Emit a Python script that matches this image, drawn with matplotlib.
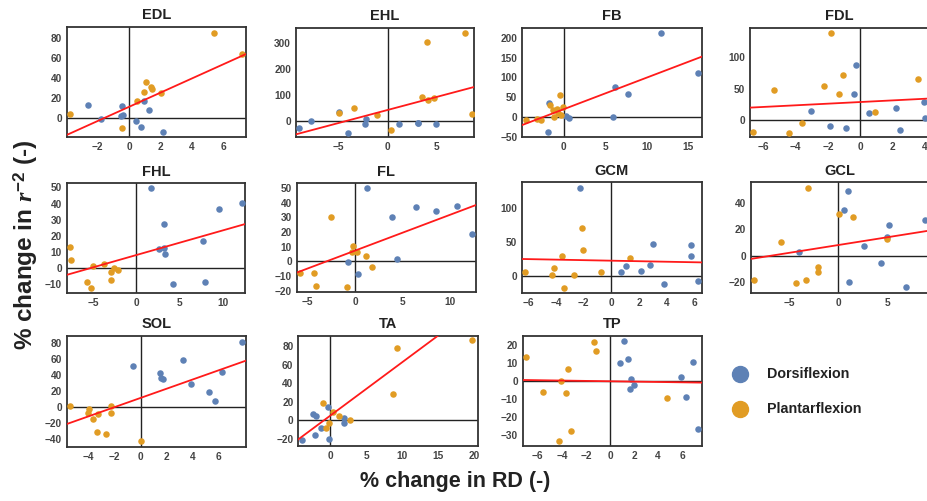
import matplotlib
matplotlib.use("Agg")
import matplotlib.pyplot as plt
import numpy as np

plt.rcParams['font.family'] = ['Liberation Sans', 'DejaVu Sans']
plt.rcParams['mathtext.fontset'] = 'custom'
plt.rcParams['mathtext.it'] = 'Liberation Serif:italic:bold'
plt.rcParams['mathtext.rm'] = 'Liberation Sans:bold'

BLUE = '#5E81B5'
ORANGE = '#E19C24'

# ---------------- data ----------------
panels = ['EDL', 'EHL', 'FB', 'FDL', 'FHL', 'FL', 'GCM', 'GCL', 'SOL', 'TA', 'TP']

# EDL
edl_dx = [-2.62, -1.80, -0.47, -0.51, -0.38, 0.44, 0.76, 0.95, 1.29, 2.16]
edl_dy = [13.2, -0.3, 12.2, 2.3, 3.6, -2.6, -8.3, 17.2, 8.3, -13.9]
edl_px = [-3.74, -0.47, 0.49, 0.95, 1.08, 1.40, 1.44, 2.05, 5.41, 7.15]
edl_py = [4.6, -9.9, 17.5, 26.4, 36.0, 31.4, 29.4, 24.8, 85.0, 64.1]
# EHL
ehl_dx = [-8.98, -7.83, -4.92, -4.07, -2.20, -2.34, 1.15, 3.05, 3.12, 4.88]
ehl_dy = [-29.5, -1.3, 33.3, -46.2, 6.4, -12.8, -11.5, -7.7, -10.3, -14.1]
ehl_px = [-4.95, -3.46, -1.12, 0.31, 3.49, 4.00, 4.14, 4.71, 7.86, 8.54]
ehl_py = [28.2, 47.4, 21.8, -35.9, 91.0, 301.0, 79.5, 87.2, 337.0, 24.4]
# FB
fb_dx = [-1.81, -1.93, 0.24, 0.60, 5.98, 6.22, 7.71, 11.77, 16.14]
fb_dy = [34.5, -38.7, 3.4, -2.5, -0.8, 76.5, 57.1, 211.8, 111.8]
fb_px = [-4.54, -3.25, -2.77, -1.65, -1.33, -1.12, -0.80, -0.64, -0.44, -0.36, -0.08]
fb_py = [-7.6, -4.2, -7.6, 29.4, 16.8, -0.8, 19.3, 9.2, 54.6, 5.0, 25.2]
# FDL
fdl_dx = [-3.07, -1.85, -0.85, -0.39, -0.23, 0.54, 2.24, 2.47, 3.98, 4.05]
fdl_dy = [14.4, -9.0, -12.2, 42.0, 87.2, 11.7, 19.1, -16.5, 28.7, 3.7]
fdl_px = [-6.64, -5.33, -4.42, -3.61, -2.22, -1.78, -1.33, -1.08, 0.91, 3.61]
fdl_py = [-19.1, 47.9, -20.2, -5.3, 54.8, 138.8, 41.0, 71.3, 12.2, 66.0]
# FHL
fhl_dx = [1.65, 2.64, 3.14, 3.22, 3.30, 4.21, 7.66, 7.89, 9.46, 12.11]
fhl_dy = [49.5, 12.0, 27.4, 12.6, 9.1, -9.9, 16.7, -8.2, 36.5, 40.4]
fhl_px = [-7.62, -7.55, -5.71, -5.25, -5.02, -3.75, -2.95, -2.95, -2.53, -2.15]
fhl_py = [13.2, 4.9, -8.7, -12.2, 1.6, 2.5, -2.1, -7.2, 0.4, -1.0]
# FL
fl_dx = [-0.70, 0.28, 1.30, 3.91, 4.44, 6.41, 8.52, 10.77, 12.36]
fl_dy = [-0.2, -8.4, 49.9, 30.2, 1.6, 37.0, 34.0, 37.9, 18.8]
fl_px = [-5.81, -4.37, -4.15, -2.57, -0.81, -0.25, -0.32, 0.21, 1.16, 1.83]
fl_py = [-7.9, -7.7, -16.6, 30.2, -17.7, 10.7, 6.1, 6.1, 3.9, -4.1]
# GCM
gcm_dx = [-2.24, 0.70, 1.06, 2.16, 2.79, 3.03, 3.82, 5.72, 5.77, 6.23]
gcm_dy = [130.2, 5.0, 14.9, 7.4, 16.3, 47.0, -11.9, 45.0, 29.7, -7.9]
gcm_px = [-6.20, -4.25, -4.11, -3.53, -3.39, -2.69, -2.09, -2.02, -0.75, 1.37]
gcm_py = [5.9, 1.0, 11.4, 29.7, -17.8, 1.0, 71.3, 38.1, 5.0, 26.2]
# GCL
gcl_dx = [-3.95, 0.57, 0.98, 1.08, 2.57, 4.32, 5.14, 4.97, 6.86, 8.75]
gcl_dy = [2.5, 34.5, 49.1, -19.9, 7.5, -5.8, 23.4, 14.1, -23.9, 26.7]
gcl_px = [-8.55, -5.84, -4.29, -3.28, -3.04, -2.06, -2.09, 0.03, 1.49, 4.90]
gcl_py = [-18.6, 10.1, -20.6, -18.1, 51.1, -8.6, -12.6, 31.4, 29.4, 12.3]
# SOL
sol_dx = [-0.59, 1.48, 1.56, 1.69, 3.22, 3.84, 5.22, 5.70, 6.24, 7.75]
sol_dy = [50.4, 42.5, 36.3, 35.0, 57.9, 27.9, 18.8, 6.7, 43.3, 81.3]
sol_px = [-5.40, -3.94, -4.04, -3.63, -3.27, -3.32, -2.69, -2.30, -2.30, 0.0]
sol_py = [0.4, -2.9, -8.3, -15.8, -9.2, -32.1, -33.8, 0.8, -8.3, -42.9]
# TA
ta_dx = [-3.94, -2.45, -1.94, -2.13, -1.25, -0.28, -0.19, 1.85, 1.85]
ta_dy = [-20.9, 7.2, 4.7, -15.9, -7.9, 14.4, -20.2, 2.9, -3.2]
ta_px = [-1.02, -0.60, -0.14, 0.42, 1.25, 2.73, 8.75, 9.21, 19.68]
ta_py = [18.8, -8.7, -2.5, 9.0, 5.1, 0.0, 28.9, 78.3, 86.6]
# TP
tp_dx = [0.80, 1.14, 1.47, 1.72, 1.66, 2.02, 5.90, 6.32, 6.87, 7.29]
tp_dy = [10.0, 22.0, 12.0, 1.3, -4.6, -2.4, 2.0, -8.7, 10.3, -26.8]
tp_px = [-6.98, -5.60, -4.10, -4.21, -3.63, -3.52, -3.24, -1.30, -1.19, 4.71]
tp_py = [13.1, -5.9, -0.2, -33.2, -6.8, 6.8, -27.7, 21.6, 16.6, -9.2]

# fitted line (slope, intercept)
fit_slope = [7.06, 10.06, 7.97, 1.30, 1.534, 2.43, -0.39, 1.18, 5.76, 5.79, -0.098]
fit_icpt = [11.4, 41.2, 19.5, 28.6, 8.19, 7.27, 22.3, 8.0, 11.0, 5.1, -0.16]

xlims = [(-3.95, 7.42), (-9.32, 8.78), (-4.98, 16.63), (-6.85, 4.29),
         (-8.01, 12.53), (-6.16, 12.78), (-6.47, 6.51), (-8.89, 9.26),
         (-5.68, 8.08), (-4.44, 20.46), (-7.26, 7.62)]
ylims = [(-18.2, 90.9), (-64, 357.7), (-51.3, 225.2), (-27.7, 147.3),
         (-15.5, 52.6), (-21.1, 53.1), (-25.2, 138.6), (-28.4, 55.3),
         (-50, 88.3), (-27.8, 91.3), (-36.0, 24.9)]
xticks = [[-2, 0, 2, 4, 6], [-5, 0, 5], [0, 5, 10, 15], [-6, -4, -2, 0, 2, 4],
          [-5, 0, 5, 10], [-5, 0, 5, 10], [-6, -4, -2, 0, 2, 4, 6], [-5, 0, 5],
          [-4, -2, 0, 2, 4, 6], [0, 5, 10, 15, 20], [-6, -4, -2, 0, 2, 4, 6]]
yticks = [[0, 20, 40, 60, 80], [0, 100, 200, 300], [-50, 0, 50, 100, 150, 200],
          [0, 50, 100], [-10, 0, 10, 20, 30, 40, 50], [-20, -10, 0, 10, 20, 30, 40, 50],
          [0, 50, 100], [-20, 0, 20, 40], [-40, -20, 0, 20, 40, 60, 80],
          [-20, 0, 20, 40, 60, 80], [-30, -20, -10, 0, 10, 20]]

dors_x = [edl_dx, ehl_dx, fb_dx, fdl_dx, fhl_dx, fl_dx, gcm_dx, gcl_dx, sol_dx, ta_dx, tp_dx]
dors_y = [edl_dy, ehl_dy, fb_dy, fdl_dy, fhl_dy, fl_dy, gcm_dy, gcl_dy, sol_dy, ta_dy, tp_dy]
plan_x = [edl_px, ehl_px, fb_px, fdl_px, fhl_px, fl_px, gcm_px, gcl_px, sol_px, ta_px, tp_px]
plan_y = [edl_py, ehl_py, fb_py, fdl_py, fhl_py, fl_py, gcm_py, gcl_py, sol_py, ta_py, tp_py]

# ---------------- layout (pixel boxes: left, top, right, bottom) ----------------
W, H = 927, 501
boxes = [(66.7, 26.7, 246, 136.7), (296, 27.7, 474, 137.3), (522.3, 27.7, 701.7, 137.3), (750, 27.7, 929, 137.3),
         (66.7, 183.3, 245.3, 293.3), (296.7, 183.3, 476, 292.3), (521.7, 182.3, 701.7, 292.7), (750.7, 182.3, 929.7, 293.3),
         (66.7, 336, 246, 446.7), (298.3, 336, 477.7, 446), (522.7, 336, 701.7, 446)]

fig = plt.figure(figsize=(W / 100, H / 100), dpi=100)
fig.patch.set_facecolor('white')

for i, name in enumerate(panels):
    l, t, r, b = boxes[i]
    ax = fig.add_axes([l / W, 1 - b / H, (r - l) / W, (b - t) / H])
    ax.set_xlim(*xlims[i])
    ax.set_ylim(*ylims[i])
    ax.axhline(0, color='#222222', lw=1.0, zorder=1)
    ax.axvline(0, color='#222222', lw=1.0, zorder=1)
    ax.scatter(dors_x[i], dors_y[i], s=22, color=BLUE, zorder=3, linewidths=0)
    ax.scatter(plan_x[i], plan_y[i], s=22, color=ORANGE, zorder=3, linewidths=0)
    xx = np.array(xlims[i])
    ax.plot(xx, fit_slope[i] * xx + fit_icpt[i], color='#FF1A1A', lw=1.3, zorder=4)
    ax.set_xticks(xticks[i])
    ax.set_yticks(yticks[i])
    ax.set_xticklabels(['\u2212' + str(abs(v)) if v < 0 else str(v) for v in xticks[i]])
    ax.set_yticklabels(['\u2212' + str(abs(v)) if v < 0 else str(v) for v in yticks[i]])
    ax.tick_params(length=0, pad=3.5, labelsize=7.3, labelcolor='#444444')
    for lab in ax.get_xticklabels() + ax.get_yticklabels():
        lab.set_fontweight('bold')
    for sp in ax.spines.values():
        sp.set_color('#333333')
        sp.set_linewidth(1.3)
    ax.set_title(name, fontsize=10.5, fontweight='bold', color='#222222', pad=5.5)

# legend
fig.text(767 / W, 1 - 374.3 / H, 'Dorsiflexion', fontsize=10.3, fontweight='bold',
         color='#222222', va='center', ha='left')
fig.text(767 / W, 1 - 409.3 / H, 'Plantarflexion', fontsize=10.3, fontweight='bold',
         color='#222222', va='center', ha='left')
fig.lines.append(plt.Line2D([740 / W], [1 - 374.3 / H], marker='o', markersize=11.5,
                            color=BLUE, transform=fig.transFigure, linestyle='none'))
fig.lines.append(plt.Line2D([740 / W], [1 - 409.3 / H], marker='o', markersize=11.5,
                            color=ORANGE, transform=fig.transFigure, linestyle='none'))

# axis labels
fig.text(455 / W, 1 - 481 / H, '% change in RD (-)', fontsize=15.5, fontweight='bold',
         color='#222222', ha='center', va='center')
fig.text(26 / W, 1 - 245 / H, r'% change in $\mathit{r}^{-2}$ (-)', fontsize=17.5,
         fontweight='bold', color='#222222', ha='center', va='center', rotation=90)

fig.savefig('out.png', dpi=100, facecolor='white')
